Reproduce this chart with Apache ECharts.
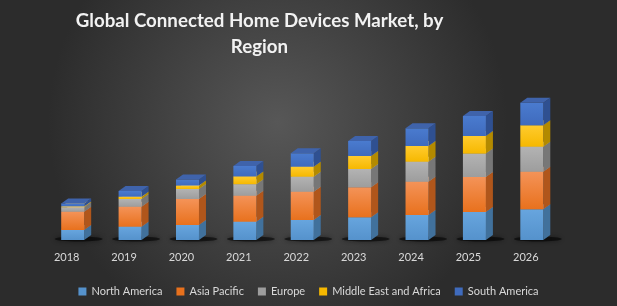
<!DOCTYPE html>
<html>
<head>
<meta charset="utf-8">
<script src="https://cdn.jsdelivr.net/npm/echarts@6/dist/echarts.min.js"></script>
<style>
  html, body { margin: 0; padding: 0; }
  #chart { width: 617px; height: 306px; }
</style>
</head>
<body>
<div id="chart"></div>
<script>
const categories = ['2018', '2019', '2020', '2021', '2022', '2023', '2024', '2025', '2026'];
const northAmerica = [10, 13.3, 15, 18.3, 20, 22.7, 25, 28, 30.7];
const asiaPacific = [18.3, 20, 26, 26, 28.3, 30, 33.3, 35, 37.6];
const europe = [4.5, 7.7, 10, 11.5, 15, 18.3, 20, 23.4, 25];
const middleEastAfrica = [0.8, 2.3, 3.5, 7.8, 10, 13, 15.7, 17.6, 21.4];
const southAmerica = [3, 5.7, 6, 10.5, 13.4, 15, 17.7, 20, 22.6];

const BAR_W = 23;   // front face width
const DX = 7;       // depth offset, right
const DY = 5;       // depth offset, up
const SHIFT = 6;    // front face offset from category centre

const regions = [
  { name: 'North America', values: northAmerica, front: ['#67a5de', '#5592cc'], side: '#41719c', top: '#7db3e3' },
  { name: 'Asia Pacific', values: asiaPacific, front: ['#f49358', '#e8711d'], side: '#b0561b', top: '#f6a46f' },
  { name: 'Europe', values: europe, front: ['#b3b3b3', '#9d9d9d'], side: '#777777', top: '#c4c4c4' },
  { name: 'Middle East and Africa', values: middleEastAfrica, front: ['#ffcb2e', '#f6b800'], side: '#b38a00', top: '#ffd55a' },
  { name: 'South America', values: southAmerica, front: ['#4a7bcf', '#3f6bbd'], side: '#2f5091', top: '#3f63ab' }
];

function makeSeries(region, base, isFirst) {
  const data = categories.map((c, i) => [i, base[i], base[i] + region.values[i]]);
  return {
    name: region.name,
    type: 'custom',
    itemStyle: { color: region.front[1] },
    data: data,
    renderItem: function (params, api) {
      const i = api.value(0);
      const p0 = api.coord([i, api.value(1)]);
      const p1 = api.coord([i, api.value(2)]);
      const cx = p0[0] + SHIFT;
      const x0 = cx - BAR_W / 2;
      const x1 = cx + BAR_W / 2;
      const yb = p0[1];
      const yt = p1[1];
      const children = [];
      if (isFirst) {
        children.push({
          type: 'ellipse',
          shape: { cx: cx + 6, cy: yb - 1, rx: 24, ry: 2.5 },
          style: { fill: 'rgba(0,0,0,0.55)', shadowBlur: 5, shadowColor: 'rgba(0,0,0,0.8)' }
        });
      }
      children.push({
        type: 'polygon',
        shape: { points: [[x1, yb], [x1 + DX, yb - DY], [x1 + DX, yt - DY], [x1, yt]] },
        style: { fill: region.side }
      });
      children.push({
        type: 'rect',
        shape: { x: x0, y: yt, width: BAR_W, height: yb - yt },
        style: {
          fill: new echarts.graphic.LinearGradient(0, 0, 0, 1, [
            { offset: 0, color: region.front[0] },
            { offset: 1, color: region.front[1] }
          ])
        }
      });
      children.push({
        type: 'polygon',
        shape: { points: [[x0, yt], [x1, yt], [x1 + DX, yt - DY], [x0 + DX, yt - DY]] },
        style: { fill: region.top }
      });
      return { type: 'group', children: children };
    }
  };
}

const series = [];
let base = categories.map(() => 0);
regions.forEach((r, k) => {
  series.push(makeSeries(r, base, k === 0));
  base = base.map((b, i) => b + r.values[i]);
});

const chart = echarts.init(document.getElementById('chart'));
chart.setOption({
  animation: false,
  backgroundColor: new echarts.graphic.RadialGradient(0.45, 0.4, 0.75, [
    { offset: 0, color: '#575757' },
    { offset: 1, color: '#2c2c2c' }
  ]),
  title: {
    text: 'Global Connected Home Devices Market, by\nRegion',
    left: 254.5,
    top: 3,
    textAlign: 'center',
    textStyle: {
      color: '#f2f2f2',
      fontFamily: 'Lato',
      fontWeight: 'bold',
      fontSize: 18.7,
      lineHeight: 26
    }
  },
  legend: {
    top: 281,
    left: 'center',
    icon: 'rect',
    itemWidth: 8,
    itemHeight: 8,
    itemGap: 14,
    textStyle: { color: '#d9d9d9', fontFamily: 'Lato', fontSize: 11 },
    data: regions.map(r => r.name)
  },
  grid: { left: 38, right: 62.5, top: 40, bottom: 66 },
  xAxis: {
    type: 'category',
    data: categories,
    axisLine: { show: false },
    axisTick: { show: false },
    axisLabel: { color: '#d9d9d9', fontFamily: 'Lato', fontSize: 11, margin: 12 }
  },
  yAxis: {
    type: 'value',
    min: 0,
    max: 200,
    show: false,
    splitLine: { show: false }
  },
  series: series
});
</script>
</body>
</html>
